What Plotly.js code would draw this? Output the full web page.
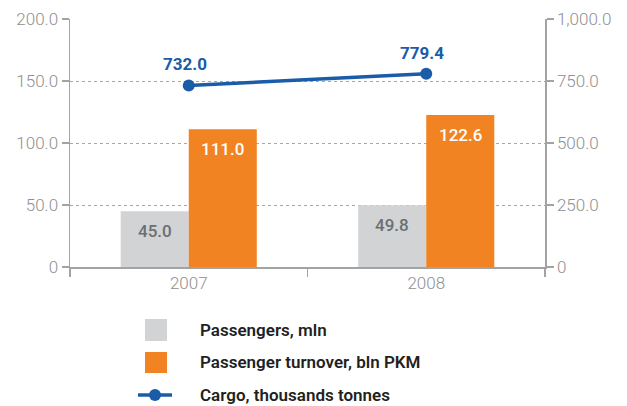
<!DOCTYPE html>
<html>
<head>
<meta charset="utf-8">
<script src="https://cdn.plot.ly/plotly-3.0.1.min.js"></script>
<style>html,body{margin:0;padding:0;background:#fff;}#chart{width:627px;height:406px;}</style>
</head>
<body>
<div id="chart"></div>
<script>
const years = ["2007", "2008"];
const passengers = [45.0, 49.8];
const turnover = [111.0, 122.6];
const cargo = [732.0, 779.4];
const seriesNames = ["Passengers, mln", "Passenger turnover, bln PKM", "Cargo, thousands tonnes"];
const leftTicks = [0, 50, 100, 150, 200];
const leftTickText = ["0", "50.0", "100.0", "150.0", "200.0"];
const rightTicks = [0, 250, 500, 750, 1000];
const rightTickText = ["0", "250.0", "500.0", "750.0", "1,000.0"];

const GREY = "#d1d3d4", ORANGE = "#f28322", BLUE = "#1b5ca8", AX = "#a3a3a3", TICK = "#8f8f8f";
const FONT = "Roboto, 'Open Sans', sans-serif";
const bargap = 0.427;
const barHalf = (1 - bargap) / 4;

const traces = [
  {type: "bar", name: seriesNames[0], x: years, y: passengers, marker: {color: GREY}, hoverinfo: "skip"},
  {type: "bar", name: seriesNames[1], x: years, y: turnover, marker: {color: ORANGE}, hoverinfo: "skip"},
  {type: "scatter", mode: "lines+markers", name: seriesNames[2], x: years, y: cargo, yaxis: "y2",
   line: {color: BLUE, width: 3.5}, marker: {color: BLUE, size: 12}, hoverinfo: "skip"}
];

const annotations = [];
years.forEach((yr, i) => {
  annotations.push({x: i - barHalf, y: passengers[i], xref: "x", yref: "y", text: passengers[i].toFixed(1),
    showarrow: false, yshift: -20, font: {family: FONT, size: 17, color: "#6d6e71", weight: 500}});
  annotations.push({x: i + barHalf, y: turnover[i], xref: "x", yref: "y", text: turnover[i].toFixed(1),
    showarrow: false, yshift: -20, font: {family: FONT, size: 17, color: "#ffffff", weight: 500}});
  annotations.push({x: i, y: cargo[i], xref: "x", yref: "y2", text: cargo[i].toFixed(1),
    showarrow: false, yshift: 21, xshift: -4, font: {family: FONT, size: 17, color: BLUE, weight: 700}});
});

// custom legend
const px = v => (v - 70) / 475;
const py = v => (267 - v) / 248;
const shapes = [
  {type: "rect", xref: "paper", yref: "paper", x0: px(145), x1: px(167), y0: py(341), y1: py(319), fillcolor: GREY, line: {width: 0}},
  {type: "rect", xref: "paper", yref: "paper", x0: px(145), x1: px(167), y0: py(373), y1: py(352), fillcolor: ORANGE, line: {width: 0}},
  {type: "line", xref: "paper", yref: "paper", x0: px(138), x1: px(172), y0: py(395), y1: py(395), line: {color: BLUE, width: 3.5}},
  {type: "circle", xref: "paper", yref: "paper", x0: px(149), x1: px(161), y0: py(401), y1: py(389), fillcolor: BLUE, line: {width: 0}}
];
const legendY = [330, 362, 395];
seriesNames.forEach((n, i) => {
  annotations.push({xref: "paper", yref: "paper", x: px(198), y: py(legendY[i]), xanchor: "left", yanchor: "middle",
    text: n, showarrow: false, font: {family: FONT, size: 17, color: "#231f20", weight: 600}});
});

const tf = {size: 17, color: TICK, family: FONT, weight: 300};
const layout = {
  width: 627, height: 406,
  margin: {l: 70, r: 82, t: 19, b: 139, pad: 0},
  paper_bgcolor: "#ffffff", plot_bgcolor: "#ffffff",
  showlegend: false,
  barmode: "group", bargap: bargap, bargroupgap: 0,
  font: {family: FONT, color: TICK},
  xaxis: {type: "category", showline: true, linecolor: AX, linewidth: 1.5, ticks: "outside", tickson: "boundaries",
    ticklen: 8, tickcolor: AX, tickwidth: 1.5, tickfont: tf, showgrid: false, zeroline: false},
  yaxis: {range: [0, 200], tickvals: leftTicks, ticktext: leftTickText, showline: true, linecolor: AX, linewidth: 1.5,
    ticks: "outside", ticklen: 7, tickcolor: AX, tickwidth: 1.5, tickfont: tf,
    showgrid: true, gridcolor: "#a8a8a8", gridwidth: 1, griddash: "dot", zeroline: false},
  yaxis2: {range: [0, 1000], overlaying: "y", side: "right", tickvals: rightTicks, ticktext: rightTickText,
    showline: true, linecolor: AX, linewidth: 1.5, ticks: "outside", ticklen: 7, tickcolor: AX, tickwidth: 1.5,
    tickfont: tf, showgrid: false, zeroline: false},
  annotations: annotations,
  shapes: shapes
};

Plotly.newPlot("chart", traces, layout, {staticPlot: true, displayModeBar: false});
</script>
</body>
</html>
